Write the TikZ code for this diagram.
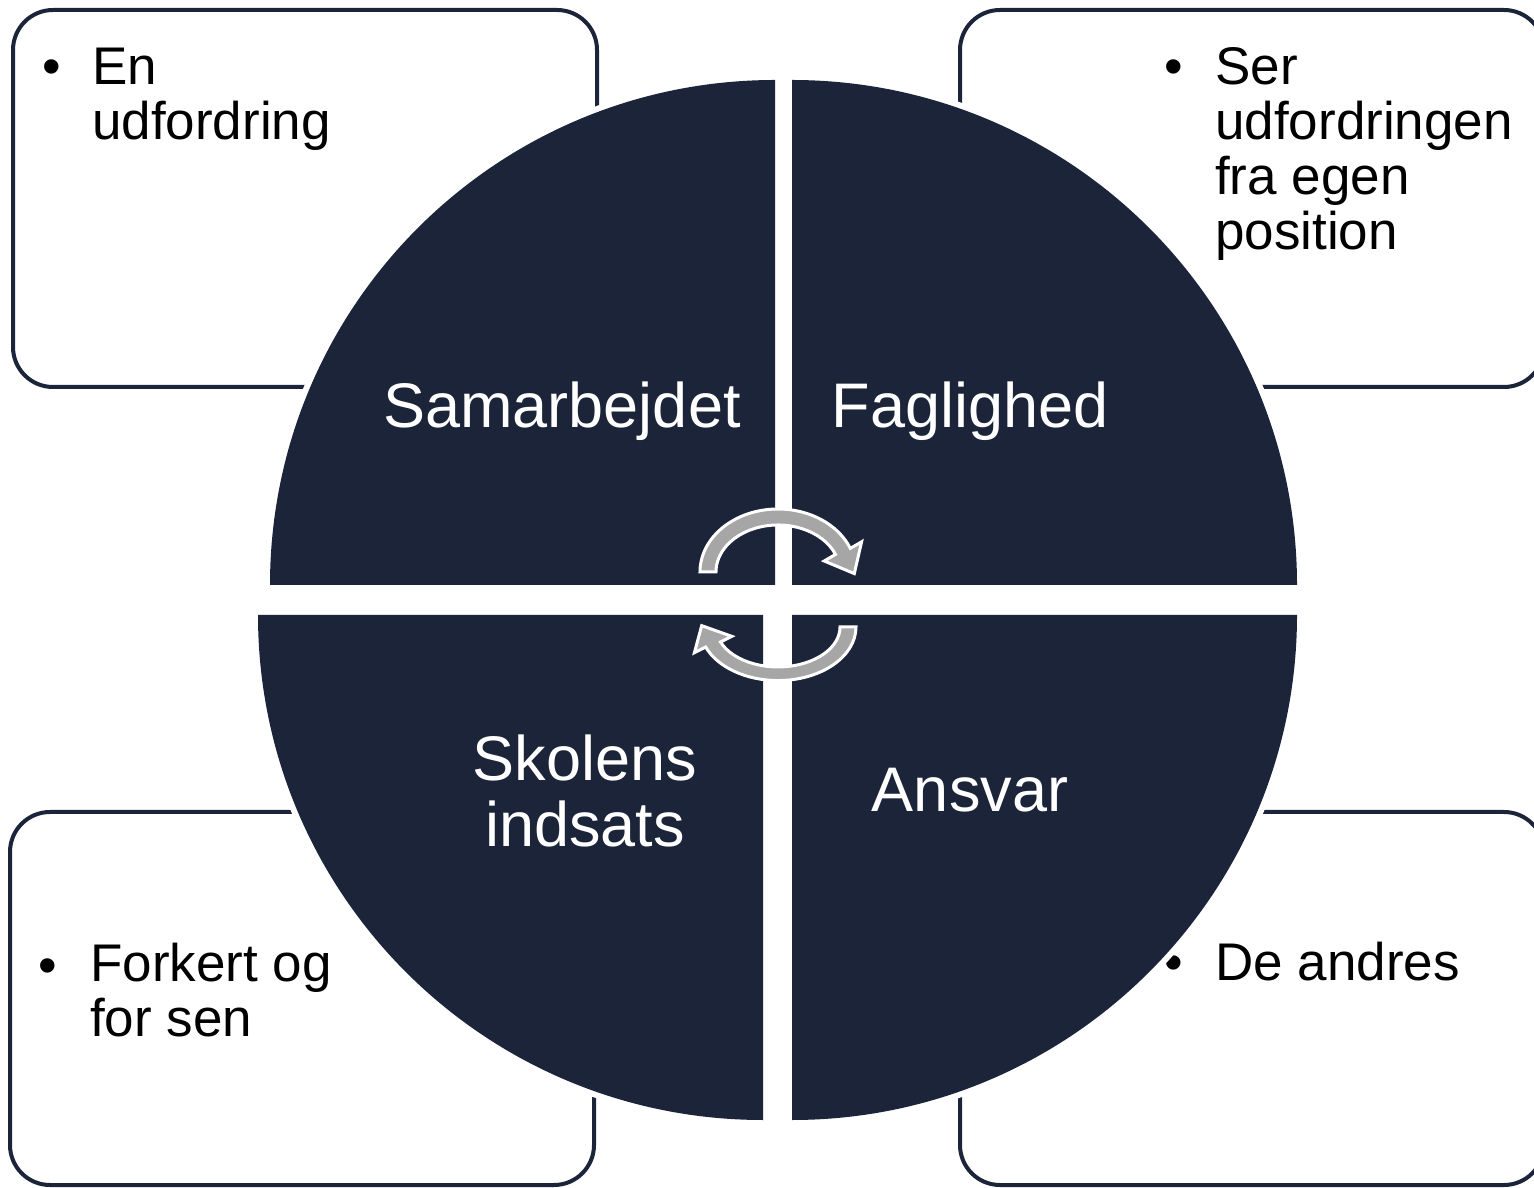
\documentclass[tikz,border=0pt]{standalone}
\usepackage{fontspec}
\setmainfont{Liberation Sans}

\definecolor{navy}{RGB}{27,36,57}
\definecolor{arrowgray}{RGB}{166,166,166}

\begin{document}
\begin{tikzpicture}
[x=1pt,y=1pt,%
  boxDecorate/.style={draw=navy,line width=4pt,rounded corners=40pt},%
  quarterDecorate/.style={fill=navy,preaction={draw=white,line width=12pt}},%
  arrowDecorate/.style={fill=arrowgray,draw=white,line width=3pt},%
  labelDecorate/.style={text=white,inner sep=0pt,anchor=base,align=center,
    font=\fontsize{63}{66}\selectfont},%
  itemDecorate/.style={inner sep=0pt,anchor=base west,align=left,
    font=\fontsize{53}{55}\selectfont},%
  bulletDecorate/.style={inner sep=0pt,anchor=base west,
    font=\fontsize{53}{55}\selectfont}]
\useasboundingbox (0,0) rectangle (1534,1187);
%% boxes behind the circle
\foreach \x/\y/\w/\h in {13/800/584/377, 960/800/584/377,
  10/2/584/373, 960/2/584/373}
{
  \draw[boxDecorate] (\x,\y) rectangle ++(\w,\h);
}
%% box texts (multi-line nodes sit on their last baseline)
\node (tlBullet) at (42,1102) [bulletDecorate] {•};
\node (tlItem) at (92,1047) [itemDecorate] {En\\udfordring};
\node (trBullet) at (1164,1102) [bulletDecorate] {•};
\node (trItem) at (1215,937) [itemDecorate] {Ser\\udfordringen\\fra egen\\position};
\node (blBullet) at (38,204) [bulletDecorate] {•};
\node (blItem) at (90,151) [itemDecorate] {Forkert og\\for sen};
\node (brBullet) at (1164,207) [bulletDecorate] {•};
\node (brItem) at (1215,207) [itemDecorate] {De andres};
%% quarters of the circle
\foreach \cx/\cy/\a in {775/602/90, 792/602/0, 763/572/180, 792/572/270}
{
  \path[quarterDecorate] (\cx,\cy) -- ++(\a:505)
    arc[start angle=\a, end angle=\a+90, radius=505] -- cycle;
}
%% quarter labels
\node (samarbejdet) at (562,759) [labelDecorate] {Samarbejdet};
\node (faglighed) at (970,759) [labelDecorate] {Faglighed};
\node (skolens) at (585,341) [labelDecorate] {Skolens\\indsats};
\node (ansvar) at (970,375) [labelDecorate] {Ansvar};
%% turning arrows
\begin{scope}[shift={(778,615)}]
  \filldraw[arrowDecorate] (180:78 and 63)
    arc[start angle=180, end angle=22, x radius=78, y radius=63]
    -- (83.6,30.2) -- (76.3,-1.6) -- (46.2,11.0) -- (22:62 and 47)
    arc[start angle=22, end angle=180, x radius=62, y radius=47] -- cycle;
\end{scope}
\begin{scope}[shift={(778,560)},rotate=180,yscale=0.85]
  \filldraw[arrowDecorate] (180:78 and 63)
    arc[start angle=180, end angle=22, x radius=78, y radius=63]
    -- (83.6,30.2) -- (76.3,-1.6) -- (46.2,11.0) -- (22:62 and 47)
    arc[start angle=22, end angle=180, x radius=62, y radius=47] -- cycle;
\end{scope}
\end{tikzpicture}
\end{document}
